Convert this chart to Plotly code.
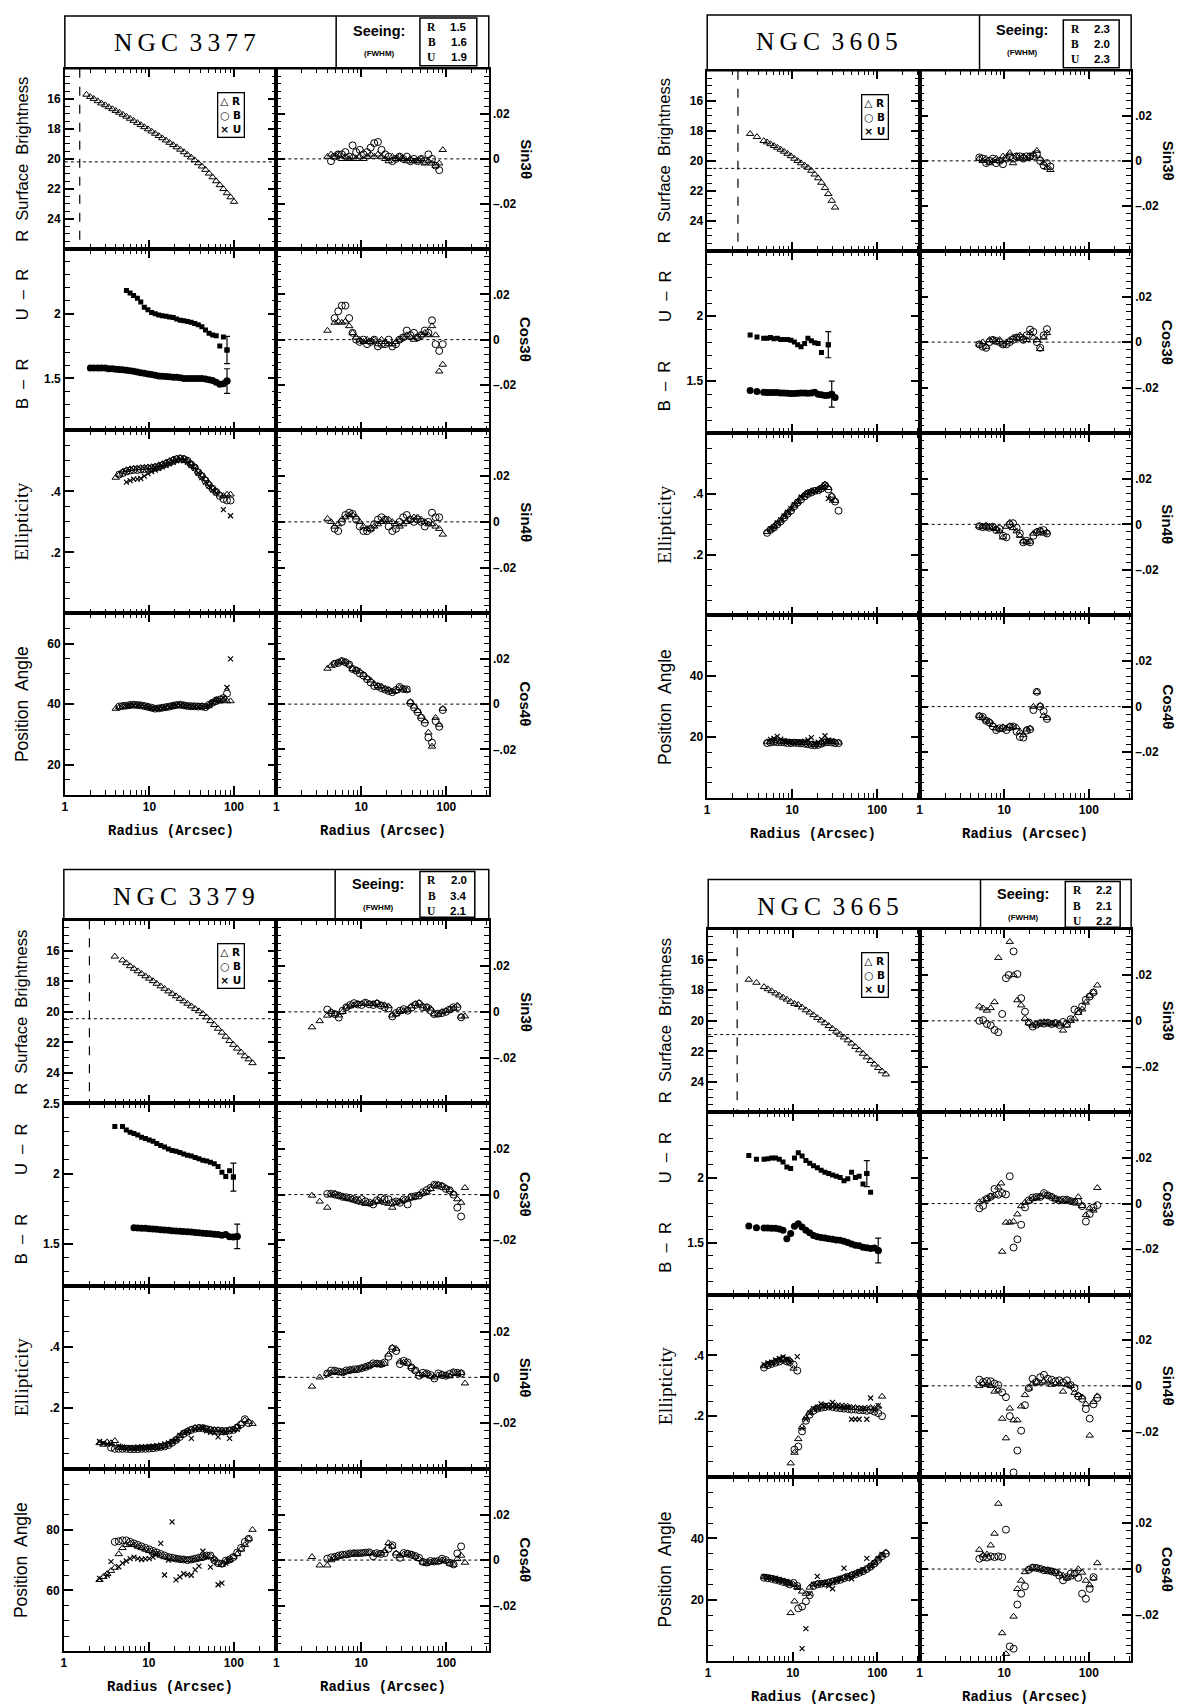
import plotly.graph_objects as go

N = None
W, H = 1185, 1705


def at(start, vals, n):
    """place a list of read-off values on a galaxy's radius grid (None = no point)"""
    out = [None] * start + list(vals)
    return (out + [None] * n)[:n]

# ======================= NGC 3377 =======================
n3377_r = [1.8, 2.0, 2.2, 2.45, 2.7, 3.0, 3.3, 3.65, 4.0, 4.4, 4.85, 5.35, 5.9, 6.5, 7.2, 7.9, 8.7, 9.6,
           10.6, 11.7, 12.9, 14.2, 15.7, 17.3, 19.1, 21.0, 23.2, 25.6, 28.2, 31.1, 34.3, 37.8, 41.7, 46.0,
           50.7, 55.9, 61.6, 67.9, 74.9, 82.6, 91.0, 100.0]
_n = len(n3377_r)
n3377_sb = at(0, [15.72, 15.87, 16.0, 16.15, 16.3, 16.42, 16.55, 16.68, 16.8, 16.92, 17.05, 17.18, 17.32, 17.46,
                  17.6, 17.74, 17.88, 18.02, 18.17, 18.32, 18.47, 18.62, 18.77, 18.92, 19.07, 19.22, 19.38,
                  19.55, 19.72, 19.9, 20.08, 20.28, 20.5, 20.72, 20.97, 21.22, 21.48, 21.74, 22.0, 22.28,
                  22.55, 22.85], _n)
n3377_ur = at(11, [2.18, 2.16, 2.14, 2.12, 2.09, 2.05, 2.03, 2.01, 2.0, 1.99, 1.985, 1.98, 1.975, 1.97, 1.96,
                   1.95, 1.945, 1.94, 1.935, 1.925, 1.915, 1.90, 1.875, 1.85, 1.835, 1.83, 1.75, 1.82, 1.72], _n)
n3377_br = at(1, [1.58, 1.58, 1.58, 1.58, 1.58, 1.575, 1.575, 1.572, 1.57, 1.567, 1.563, 1.56, 1.555, 1.55,
                  1.545, 1.54, 1.535, 1.53, 1.525, 1.52, 1.518, 1.515, 1.513, 1.51, 1.51, 1.505, 1.50, 1.50,
                  1.50, 1.50, 1.50, 1.50, 1.495, 1.49, 1.485, 1.47, 1.455, 1.46, 1.48], _n)
n3377_err = {'ur': (39, 0.105), 'br': (39, 0.095)}
n3377_ell_R = at(8, [0.445, 0.455, 0.465, 0.47, 0.473, 0.475, 0.476, 0.477, 0.478, 0.479, 0.48, 0.482, 0.486,
                     0.49, 0.495, 0.50, 0.505, 0.508, 0.51, 0.508, 0.50, 0.49, 0.48, 0.465, 0.452, 0.44, 0.425,
                     0.41, 0.40, 0.39, 0.385, 0.39, 0.39], _n)
n3377_ell_B = at(9, [0.455, 0.46, 0.465, 0.468, 0.47, 0.47, 0.472, 0.473, 0.475, 0.475, 0.478, 0.48, 0.485,
                     0.49, 0.495, 0.5, 0.505, 0.507, 0.505, 0.5, 0.488, 0.478, 0.462, 0.45, 0.435, 0.42, 0.408,
                     0.398, 0.385, 0.375, 0.37, 0.37], _n)
n3377_ell_U = at(11, [0.43, 0.435, 0.44, 0.44, 0.442, 0.45, 0.458, 0.465, 0.47, 0.475, 0.48, 0.485, 0.49,
                      0.495, 0.5, 0.502, 0.5, 0.495, 0.485, 0.475, 0.46, 0.445, 0.43, 0.418, 0.405, 0.395, N,
                      0.34, N, 0.32], _n)
n3377_pa_R = at(8, [38.5, 39.0, 39.2, 39.3, 39.5, 39.6, 39.6, 39.5, 39.3, 39.0, 38.6, 38.4, 38.5, 38.7, 38.9,
                    39.1, 39.4, 39.6, 39.7, 39.5, 39.3, 39.2, 39.2, 39.3, 39.3, 39.1, 39.6, 40.5, 41.5, 41.0,
                    41.5, 41.0, 41.0], _n)
n3377_pa_B = at(9, [39.2, 39.4, 39.5, 39.7, 39.8, 39.7, 39.6, 39.4, 39.1, 38.8, 38.5, 38.6, 38.8, 39.0, 39.2,
                    39.5, 39.7, 39.8, 39.6, 39.4, 39.3, 39.3, 39.2, 39.2, 39.0, 39.8, 40.5, 41.0, 41.5, 42.0,
                    43.5], _n)
n3377_pa_U = at(11, [39.3, 39.6, 39.6, 39.4, 39.3, 39.2, 38.9, 38.7, 38.4, 38.5, 38.6, 38.9, 39.0, 39.3, 39.5,
                     39.6, 39.4, 39.2, 39.1, 39.0, 39.0, 39.0, 38.9, 39.5, 40.5, 41.5, 41.0, 42.0, 45.5,
                     55.0], _n)
n3377_s3_R = at(8, [0.001, 0.002, 0.001, 0.002, 0.0, 0.001, 0.0, 0.001, 0.0, 0.001, 0.0, 0.001, 0.002, 0.001,
                    0.002, 0.001, 0.0, -0.001, 0.001, 0.0, 0.001, 0.0, -0.001, 0.0, -0.001, -0.001, 0.0, -0.002,
                    -0.001, -0.002, -0.003, -0.002, 0.004], _n)
n3377_s3_B = at(9, [-0.001, 0.001, 0.002, 0.002, 0.003, 0.001, 0.006, 0.003, 0.004, 0.002, 0.003, 0.005, 0.007,
                    0.0075, 0.004, 0.002, 0.001, -0.001, 0.0, 0.001, 0.0, 0.001, -0.001, 0.0, -0.001, 0.0,
                    -0.001, 0.002, 0.0, -0.003, -0.005], _n)
n3377_c3_R = at(8, [0.004, N, 0.0075, 0.008, 0.0075, 0.008, 0.006, 0.003, 0.001, 0.0, -0.001, 0.0, -0.001, 0.0,
                    -0.002, 0.0, -0.001, -0.002, -0.002, -0.001, 0.0, 0.001, 0.002, 0.001, 0.0, 0.001, 0.002,
                    0.003, 0.002, 0.006, 0.002, -0.014, -0.011], _n)
n3377_c3_B = at(10, [0.0095, 0.0125, 0.015, 0.015, 0.0095, 0.003, 0.0, -0.001, 0.0, -0.002, -0.001, 0.0, -0.003,
                     -0.002, -0.002, 0.0, -0.003, -0.002, 0.0, 0.001, 0.004, 0.002, 0.003, 0.001, 0.002, 0.004,
                     0.003, 0.0085, -0.002, -0.005, -0.002], _n)
n3377_s4_R = at(8, [0.0014, 0.0, -0.002, -0.001, 0.001, 0.002, 0.003, 0.003, 0.002, 0.0, -0.002, -0.003, -0.003,
                    -0.002, -0.001, 0.0, 0.001, 0.001, 0.0, -0.001, -0.002, -0.001, 0.0, 0.001, 0.002, 0.002,
                    0.001, 0.0, -0.001, -0.001, -0.002, -0.003, -0.0055], _n)
n3377_s4_B = at(10, [-0.003, -0.004, 0.0, 0.003, 0.004, 0.0035, 0.001, -0.002, -0.004, -0.004, -0.003, -0.001,
                     0.001, 0.002, 0.001, -0.002, -0.004, -0.003, 0.0, 0.002, 0.003, 0.001, 0.0, 0.001, 0.0,
                     -0.002, 0.0, 0.004, 0.002, 0.002], _n)
n3377_c4_R = at(8, [0.0157, 0.017, 0.018, 0.0185, 0.019, 0.0185, 0.0175, 0.0155, 0.015, 0.0145, 0.013, 0.0115,
                    0.0105, 0.009, 0.008, 0.0078, 0.0068, 0.0064, 0.0055, 0.0058, 0.0072, 0.0065, 0.0062, 0.001,
                    -0.001, -0.003, -0.0055, -0.0075, -0.0125, -0.0187, -0.006, -0.009, -0.002], _n)
n3377_c4_B = at(10, [0.0178, 0.0182, 0.019, 0.0185, 0.0175, 0.0155, 0.0148, 0.0135, 0.0126, 0.011, 0.0095,
                     0.008, 0.0078, 0.007, 0.0064, 0.0058, 0.0053, 0.0062, 0.0076, 0.0067, 0.0065, 0.0005,
                     -0.0015, -0.0035, -0.006, -0.0083, -0.0148, -0.017, -0.0075, -0.01, -0.0026], _n)

# ======================= NGC 3605 =======================
n3605_r = [3.2, 3.51, 3.85, 4.22, 4.62, 5.07, 5.56, 6.1, 6.68, 7.33, 8.04, 8.81, 9.66, 10.6, 11.6, 12.7, 14.0,
           15.3, 16.8, 18.4, 20.2, 22.1, 24.3, 26.6, 29.2, 32.0, 35.1, 38.5]
_n = len(n3605_r)
n3605_sb = at(0, [18.2, N, 18.4, N, 18.67, 18.76, 18.88, 19.0, 19.12, 19.25, 19.38, 19.52, 19.68, 19.85, 20.0,
                  20.15, 20.3, 20.45, 20.65, 20.9, 21.15, 21.45, 21.8, 22.2, 22.65, 23.1], _n)
n3605_ur = at(0, [1.855, N, 1.84, N, 1.83, 1.83, 1.835, 1.825, 1.83, 1.82, 1.82, 1.82, 1.815, 1.80, 1.78, 1.765,
                  1.79, 1.83, 1.81, 1.795, 1.79, 1.72, N, 1.78], _n)
n3605_br = at(0, [1.428, N, 1.42, N, 1.415, 1.413, 1.413, 1.412, 1.413, 1.41, 1.41, 1.408, 1.405, 1.405, 1.408,
                  1.41, 1.41, 1.408, 1.41, 1.415, 1.40, 1.395, 1.39, 1.392, 1.40, 1.375], _n)
n3605_err = {'ur': (23, 0.1), 'br': (24, 0.1)}
n3605_ell_R = at(5, [0.275, 0.283, 0.293, 0.303, 0.313, 0.325, 0.337, 0.35, 0.362, 0.374, 0.386, 0.398, 0.405,
                     0.41, 0.412, 0.415, 0.42, 0.432, 0.42, 0.395, 0.378], _n)
n3605_ell_B = at(5, [0.272, 0.282, 0.29, 0.3, 0.31, 0.322, 0.335, 0.345, 0.36, 0.372, 0.382, 0.392, 0.4, 0.405,
                     0.41, 0.412, 0.418, 0.428, 0.415, 0.39, 0.375, 0.345], _n)
n3605_ell_U = at(6, [0.285, 0.29, 0.305, 0.315, 0.328, 0.34, 0.352, 0.365, 0.375, 0.39, 0.395, 0.405, 0.408,
                     0.41, 0.412, 0.42, 0.43, 0.385, 0.38], _n)
n3605_pa_R = at(5, [18.3, 18.5, 18.8, 18.6, 18.5, 18.4, 18.3, 18.2, 18.2, 18.1, 18.1, 18.0, 18.0, 17.6, 17.4,
                    17.5, 18.0, 18.4, 18.6, 18.4, 18.3, 18.2], _n)
n3605_pa_B = at(5, [18.0, 18.2, 18.4, 18.3, 18.3, 18.2, 18.0, 18.0, 18.1, 18.0, 17.9, 17.8, 17.6, 17.4, 17.3,
                    17.4, 17.8, 18.2, 18.3, 18.2, 18.0, 18.0], _n)
n3605_pa_U = at(6, [19.2, 19.5, 20.2, 19.3, 18.8, 18.6, 18.5, 18.4, 18.5, 18.3, 18.6, 19.0, 19.8, 18.0, 18.3,
                    19.2, 20.4, 19.0, 18.8], _n)
n3605_s3_R = at(5, [0.001, 0.0, 0.001, -0.001, 0.0, 0.001, 0.0, 0.002, 0.001, 0.0035, -0.001, 0.002, 0.001,
                    0.002, 0.001, 0.002, 0.003, 0.0045, 0.001, -0.001, -0.003, -0.004], _n)
n3605_s3_B = at(5, [0.0015, 0.001, -0.001, 0.0, 0.001, -0.001, 0.0, -0.0015, 0.001, 0.002, 0.001, 0.002, 0.002,
                    0.001, 0.002, 0.002, 0.002, 0.003, 0.0, -0.002, -0.001, -0.0025], _n)
n3605_c3_R = at(5, [-0.001, 0.0, -0.002, 0.001, 0.001, 0.0, 0.001, -0.001, 0.0, 0.001, 0.002, 0.002, 0.003,
                    0.002, 0.001, 0.004, 0.002, 0.001, -0.003, 0.002, 0.004], _n)
n3605_c3_B = at(5, [-0.001, -0.002, -0.0025, 0.0, 0.001, 0.0005, 0.0, -0.001, -0.001, 0.0, 0.001, 0.002, 0.002,
                    0.001, 0.003, 0.0055, 0.0045, 0.0, -0.0025, 0.003, 0.0057], _n)
n3605_s4_R = at(5, [-0.0008, -0.001, -0.0005, -0.001, -0.0015, -0.002, -0.003, -0.0057, -0.001, 0.0008,
                    -0.0016, -0.003, -0.005, -0.0074, -0.0079, -0.0075, -0.004, -0.003, -0.0025, -0.004,
                    -0.0035], _n)
n3605_s4_B = at(5, [-0.0008, -0.0012, -0.001, -0.0015, -0.001, -0.0025, -0.002, -0.005, -0.0057, 0.0, 0.0005,
                    -0.0015, -0.004, -0.0079, -0.0072, -0.0079, -0.005, -0.0035, -0.003, -0.0025, -0.004], _n)
n3605_c4_R = at(5, [-0.004, -0.005, -0.006, -0.0065, -0.008, -0.0095, -0.01, -0.009, -0.0095, -0.0085, -0.009,
                    -0.009, -0.011, -0.0125, -0.01, -0.0095, 0.0, 0.0065, 0.0005, -0.004, -0.005], _n)
n3605_c4_B = at(5, [-0.0042, -0.0045, -0.0062, -0.007, -0.0087, -0.0103, -0.0095, -0.0095, -0.0103, -0.009,
                    -0.0087, -0.011, -0.0133, -0.0136, -0.0105, -0.01, -0.0015, 0.0065, 0.0, -0.002,
                    -0.0054], _n)

# ======================= NGC 3379 =======================
n3379_r = [2.63, 2.92, 3.24, 3.59, 3.98, 4.42, 4.9, 5.43, 6.03, 6.68, 7.41, 8.22, 9.12, 10.1, 11.2, 12.4, 13.8,
           15.3, 17.0, 18.8, 20.9, 23.2, 25.7, 28.5, 31.6, 35.1, 38.9, 43.2, 47.9, 53.1, 58.9, 65.3, 72.4,
           80.4, 89.1, 98.9, 109.6, 121.6, 134.9, 149.6, 166.0, 184.0]
_n = len(n3379_r)
n3379_sb = at(4, [16.37, N, 16.62, 16.8, 17.0, 17.17, 17.33, 17.5, 17.66, 17.82, 17.98, 18.15, 18.32, 18.48,
                  18.65, 18.81, 18.97, 19.14, 19.3, 19.46, 19.63, 19.8, 19.95, 20.13, 20.35, 20.6, 20.85, 21.1,
                  21.35, 21.62, 21.9, 22.15, 22.4, 22.65, 22.9, 23.1, 23.35], _n)
n3379_ur = at(4, [2.335, N, 2.335, 2.31, 2.295, 2.285, 2.275, 2.26, 2.25, 2.24, 2.23, 2.215, 2.2, 2.19, 2.175,
                  2.165, 2.16, 2.15, 2.14, 2.13, 2.125, 2.115, 2.105, 2.095, 2.09, 2.08, 2.07, 2.05, 2.01,
                  1.98, 2.02, 1.975], _n)
n3379_br = at(9, [1.613, 1.612, 1.61, 1.61, 1.607, 1.605, 1.603, 1.6, 1.597, 1.595, 1.592, 1.59, 1.588, 1.587,
                  1.585, 1.583, 1.58, 1.578, 1.575, 1.572, 1.57, 1.568, 1.565, 1.56, 1.565, 1.55, 1.548,
                  1.552], _n)
n3379_err = {'ur': (35, 0.1), 'br': (36, 0.087)}
n3379_ell_R = at(0, [0.085, 0.08, 0.088, 0.085, 0.092, 0.07, 0.07, 0.068, 0.068, 0.067, 0.067, 0.068, 0.068,
                     0.07, 0.07, 0.07, 0.072, 0.075, 0.08, 0.088, 0.097, 0.108, 0.118, 0.125, 0.13, 0.135,
                     0.136, 0.135, 0.132, 0.13, 0.128, 0.128, 0.126, 0.126, 0.128, 0.13, 0.138, 0.148, 0.16,
                     0.155, 0.148], _n)
n3379_ell_B = at(3, [0.07, 0.066, 0.066, 0.066, 0.066, 0.065, 0.065, 0.065, 0.066, 0.066, 0.067, 0.068, 0.07,
                     0.072, 0.074, 0.078, 0.086, 0.095, 0.105, 0.115, 0.122, 0.128, 0.132, 0.134, 0.133, 0.13,
                     0.127, 0.125, 0.125, 0.124, 0.124, 0.126, 0.128, 0.136, 0.146, 0.163, 0.15], _n)
n3379_ell_U = at(0, [0.09, 0.085, 0.082, 0.08, N, 0.075, 0.072, 0.07, 0.07, 0.07, 0.072, 0.072, 0.073, 0.074,
                     0.075, 0.076, 0.078, 0.082, 0.085, 0.09, 0.095, 0.11, 0.118, 0.122, 0.1, 0.13, 0.132,
                     0.137, 0.125, 0.12, 0.118, 0.105, 0.12, 0.118, 0.1, 0.128, 0.13], _n)
n3379_pa_R = at(0, [63.5, 64.5, 65.5, 66.5, 67.5, 72.0, 74.0, 75.0, 75.5, 75.0, 74.5, 74.0, 73.5, 73.0, 72.5,
                    72.0, 71.5, 71.0, 70.8, 70.5, 70.3, 70.2, 70.1, 70.0, 70.0, 70.2, 70.5, 70.8, 71.2, 71.3,
                    70.5, 69.0, 68.5, 69.5, 70.0, 71.0, 72.0, 73.5, 75.0, 77.0, 80.0], _n)
n3379_pa_B = at(4, [76.0, 76.2, 76.5, 76.5, 76.0, 75.5, 75.0, 74.5, 74.0, 73.5, 73.0, 72.5, 72.0, 71.5, 71.0,
                    70.8, 70.5, 70.3, 70.2, 70.0, 70.2, 70.5, 70.8, 71.0, 71.5, 71.5, 70.0, 69.0, 68.8, 69.8,
                    70.2, 71.0, 72.5, 74.0, 76.0, 77.0], _n)
n3379_pa_U = at(0, [64.0, N, 65.0, 69.5, N, 67.8, 69.0, 69.7, 70.5, 71.0, 70.5, 70.2, 70.4, 70.5, 71.0, 72.0,
                    75.5, 65.1, 70.0, 82.6, 63.5, 64.5, 65.5, 65.2, 65.0, 66.8, 68.0, 72.9, 71.0, 67.7, 70.0,
                    61.9, 62.4, 69.0, 70.0], _n)
n3379_s3_R = at(0, [-0.0067, N, -0.004, N, -0.0016, 0.0, -0.001, -0.0015, 0.0, 0.002, 0.0025, 0.003, 0.0035,
                    0.0035, 0.0038, 0.0035, 0.0035, 0.004, 0.003, 0.003, 0.0025, -0.0015, -0.001, 0.0, 0.0005,
                    0.001, 0.0025, 0.0035, 0.004, 0.0025, 0.002, 0.0015, -0.001, -0.0012, 0.0, 0.0005, 0.001,
                    0.0015, 0.0028, -0.002, -0.0019], _n)
n3379_s3_B = at(4, [0.001, -0.0005, -0.001, -0.0025, 0.0005, 0.002, 0.003, 0.0038, 0.0032, 0.003, 0.004, 0.0033,
                    0.003, 0.0036, 0.0028, 0.002, 0.0015, -0.002, -0.0005, 0.0005, 0.0012, 0.0005, 0.0018,
                    0.003, 0.0035, 0.002, 0.002, 0.0005, -0.001, -0.0008, -0.0005, 0.0, 0.001, 0.002, 0.002,
                    -0.0024], _n)
n3379_c3_R = at(0, [-0.0004, N, -0.003, N, -0.0057, 0.0, 0.0005, -0.0005, -0.001, -0.0015, -0.002, -0.0025,
                    -0.003, -0.0035, -0.004, -0.004, -0.0035, -0.003, -0.003, -0.0035, -0.004, -0.0057,
                    -0.0035, -0.003, -0.0025, -0.002, -0.0015, -0.001, 0.0, 0.0005, 0.001, 0.0025, 0.004,
                    0.0045, 0.004, 0.003, 0.002, 0.0005, -0.002, -0.0035, 0.003], _n)
n3379_c3_B = at(4, [0.0003, 0.0004, 0.0, -0.0004, -0.001, -0.0012, -0.0015, -0.002, -0.0025, -0.002, -0.003,
                    -0.0036, -0.0043, -0.0025, -0.0014, -0.002, -0.0021, -0.0036, -0.003, -0.0036, -0.0021,
                    -0.0043, -0.001, -0.0007, -0.0004, 0.001, 0.002, 0.003, 0.0043, 0.004, 0.0036, 0.0025,
                    0.0019, 0.0, -0.0057, -0.0096], _n)
n3379_s4_R = at(0, [-0.004, N, 0.0, N, 0.0015, 0.002, 0.0025, 0.002, 0.002, 0.0025, 0.003, 0.003, 0.0035,
                    0.004, 0.0045, 0.005, 0.0055, 0.006, 0.0055, 0.006, 0.01, 0.013, 0.0125, 0.007, 0.0065,
                    0.006, 0.0045, 0.003, 0.0015, 0.001, 0.0015, 0.0005, 0.0, 0.001, 0.0015, 0.001, 0.0005,
                    0.002, 0.0015, 0.002, -0.0026], _n)
n3379_s4_B = at(4, [0.0017, 0.003, 0.0029, 0.0025, 0.0022, 0.003, 0.0032, 0.0035, 0.0036, 0.004, 0.0045, 0.0051,
                    0.0061, 0.006, 0.0058, 0.0065, 0.009, 0.0125, 0.0115, 0.0058, 0.0072, 0.0065, 0.0043,
                    0.003, 0.0007, 0.002, 0.0017, 0.001, -0.0005, 0.0017, 0.001, 0.0007, 0.0015, 0.0022,
                    0.002, 0.0017], _n)
n3379_c4_R = at(0, [0.0014, N, -0.0023, N, -0.0023, 0.0, 0.001, 0.0015, 0.002, 0.002, 0.0025, 0.003, 0.0028,
                    0.003, 0.003, 0.0032, 0.003, 0.0025, 0.003, 0.004, 0.0075, 0.006, 0.003, 0.002, 0.0025,
                    0.003, 0.0025, 0.0015, 0.0005, -0.001, -0.0015, -0.001, -0.0005, -0.0008, 0.0, -0.0005,
                    -0.0015, -0.002, 0.0005, 0.002, -0.0011], _n)
n3379_c4_B = at(4, [0.0006, 0.0012, 0.0014, 0.002, 0.0024, 0.0025, 0.0029, 0.003, 0.003, 0.0031, 0.0033, 0.0034,
                    0.0017, 0.003, 0.0027, 0.003, 0.005, 0.0065, 0.0024, 0.001, 0.0031, 0.0028, 0.0024,
                    0.0018, 0.001, -0.0008, -0.0011, -0.0004, -0.0006, -0.0004, 0.0006, 0.0, -0.0012,
                    -0.0019, 0.0029, 0.006], _n)

# ======================= NGC 3665 =======================
n3665_r = [3.02, 3.35, 3.72, 4.12, 4.57, 5.07, 5.62, 6.24, 6.92, 7.67, 8.51, 9.44, 10.47, 11.61, 12.88, 14.29,
           15.85, 17.58, 19.5, 21.63, 23.99, 26.61, 29.51, 32.73, 36.31, 40.27, 44.67, 49.55, 54.95, 60.95,
           67.61, 74.99, 83.18, 92.26, 102.3, 113.5, 125.9, 9.2, 10.2, 11.3]
_n = len(n3665_r)
n3665_sb = at(0, [17.3, N, 17.5, N, 17.78, 17.92, 18.05, 18.2, 18.33, 18.47, 18.6, 18.75, 18.88, 18.95, 19.12,
                  19.3, 19.45, 19.62, 19.8, 19.97, 20.15, 20.33, 20.52, 20.7, 20.9, 21.08, 21.27, 21.48, 21.7,
                  21.92, 22.15, 22.38, 22.62, 22.85, 23.08, 23.3, 23.5], _n)
n3665_ur = at(0, [2.17, N, 2.14, N, 2.14, 2.145, 2.15, 2.15, 2.14, 2.12, 2.08, 2.07, 2.15, 2.19, 2.165, 2.13,
                  2.11, 2.09, 2.075, 2.055, 2.04, 2.03, 2.02, 2.01, 2.0, 1.975, 1.99, 2.04, 2.0, 2.01, 1.95,
                  2.03, 1.886], _n)
n3665_br = at(0, [1.627, N, 1.615, N, 1.612, 1.612, 1.61, 1.61, 1.605, 1.595, 1.53, 1.57, 1.625, 1.645, 1.62,
                  1.595, 1.575, 1.555, 1.545, 1.54, 1.535, 1.53, 1.525, 1.52, 1.518, 1.51, 1.5, 1.49, 1.48,
                  1.475, 1.465, 1.46, 1.455, 1.458, 1.44], _n)
n3665_err = {'ur': (31, 0.1), 'br': (34, 0.095)}
n3665_ell_R = at(4, [0.365, 0.37, 0.375, 0.38, 0.385, 0.39, 0.385, 0.045, 0.08, 0.125, 0.165, 0.195, 0.212,
                     0.222, 0.228, 0.232, 0.234, 0.235, 0.236, 0.235, 0.234, 0.233, 0.232, 0.228, 0.228, 0.226,
                     0.225, 0.226, 0.228, 0.225, 0.232, 0.265, N, 0.385, 0.357, N], _n)
n3665_ell_B = at(4, [0.36, 0.368, 0.372, 0.376, 0.38, 0.385, 0.38, N, 0.09, 0.1, 0.15, 0.185, 0.205, 0.218,
                     0.225, 0.228, 0.23, 0.232, 0.23, 0.228, 0.226, 0.225, 0.224, 0.222, 0.222, 0.22, 0.22,
                     0.218, 0.22, 0.215, 0.21, 0.2, N, 0.378, 0.37, 0.35], _n)
n3665_ell_U = at(4, [0.37, 0.375, 0.378, 0.385, 0.39, 0.395, 0.388, N, N, N, 0.16, 0.19, 0.21, 0.225, 0.23,
                     0.24, 0.235, 0.232, 0.245, 0.232, 0.23, 0.228, 0.23, 0.19, 0.19, 0.19, 0.225, 0.19, 0.26,
                     0.22, 0.235, N, N, 0.38, N, 0.396], _n)
n3665_pa_R = at(4, [27.4, 27.2, 27.0, 26.7, 26.3, 26.0, 25.6, 15.7, 19.5, N, 22.7, 22.0, 24.0, 25.0, 25.3, 25.4,
                    25.5, 25.8, 26.1, 26.4, 26.8, 27.2, 27.6, 28.1, 28.6, 29.0, 29.5, 30.2, 31.0, 32.0, 33.2,
                    34.5, 35.5, 25.3, 25.0, 24.0], _n)
n3665_pa_B = at(4, [27.2, 27.0, 26.8, 26.5, 26.2, 25.8, 25.5, N, N, 17.2, 17.8, 19.5, 21.5, 24.5, 25.0, 25.2,
                    25.3, 25.6, 25.9, 26.2, 26.5, 27.0, 27.4, 27.9, 28.3, 28.8, 29.3, 30.0, 30.8, 31.8, 33.0,
                    34.2, 35.0, 25.0, 25.5, 24.5], _n)
n3665_pa_U = at(4, [27.6, 27.4, 27.2, 27.0, 26.6, 26.3, 26.0, N, N, N, 4.1, 10.6, 22.0, 25.0, 27.6, 25.5, 25.6,
                    24.5, 23.6, 26.5, 27.0, 30.3, 27.8, 26.8, 28.5, 29.2, 29.8, 33.5, 31.0, 32.0, 33.5, 34.8,
                    N, 25.5, N, 24.0], _n)
n3665_s3_R = at(5, [0.0063, 0.0055, 0.0045, 0.0056, 0.0082, 0.0275, N, N, 0.0345, 0.02, 0.009, 0.0068, 0.001,
                    -0.001, -0.002, -0.0015, -0.001, -0.0005, -0.001, -0.0015, -0.001, -0.0015, -0.0042,
                    -0.002, 0.0, 0.001, 0.0035, 0.005, 0.008, 0.011, 0.0125, 0.0155], _n)
n3665_s3_B = at(5, [0.0, 0.0003, -0.0014, -0.002, -0.004, -0.005, 0.003, 0.0186, N, 0.0303, 0.0204, 0.0099,
                    0.004, -0.0007, -0.0025, -0.0017, -0.001, -0.0012, -0.0008, -0.0014, -0.001, -0.0018,
                    -0.0005, -0.0014, 0.0007, 0.0049, 0.0042, 0.0063, 0.0092, 0.0106, 0.0124, N, N, N,
                    0.02], _n)
n3665_c3_R = at(5, [0.0007, 0.0015, 0.0021, 0.0031, 0.0036, 0.0071, -0.0211, -0.0083, -0.0083, -0.0079,
                    -0.0047, -0.0011, 0.0005, 0.001, 0.002, 0.0025, 0.003, 0.004, 0.0035, 0.003, 0.002,
                    0.0015, 0.001, 0.0015, 0.001, 0.0005, 0.0029, -0.001, -0.005, -0.002, -0.003, 0.0069,
                    0.0089], _n)
n3665_c3_B = at(5, [-0.0021, -0.001, 0.0021, 0.003, 0.0064, 0.0039, 0.0046, 0.004, 0.012, -0.0193, -0.0157,
                    -0.0093, -0.0017, 0.0014, 0.0026, 0.0029, 0.0029, 0.0046, 0.0036, 0.0029, 0.002, 0.0014,
                    0.0017, 0.0017, 0.0011, 0.0007, 0.0007, -0.0011, -0.0079, -0.0046, -0.0017, -0.0007], _n)
n3665_s4_R = at(5, [0.0, 0.001, 0.0005, 0.0, -0.0025, -0.002, -0.0144, -0.023, -0.0099, -0.0151, -0.0151,
                    -0.009, -0.004, -0.0011, 0.001, 0.0015, 0.0012, 0.002, 0.0015, 0.0005, 0.001, 0.0008,
                    -0.0025, 0.0005, 0.0, -0.003, -0.004, -0.005, -0.008, -0.0218, -0.007, -0.0045], _n)
n3665_s4_B = at(5, [0.0027, 0.0017, 0.0021, 0.002, 0.001, 0.0003, -0.0029, -0.005, -0.0133, -0.038, -0.0284,
                    -0.0197, -0.0085, -0.001, 0.0031, 0.0017, 0.0038, 0.0048, 0.0031, 0.0027, 0.002, 0.0024,
                    0.0015, 0.0024, 0.0003, -0.001, -0.0046, -0.0057, -0.0102, -0.0144, -0.0081,
                    -0.0053], _n)
n3665_c4_R = at(5, [0.0084, 0.006, 0.0064, 0.0103, 0.0154, 0.0284, -0.0278, -0.0368, N, -0.0206, -0.0086,
                    -0.005, -0.0013, 0.0, 0.0006, 0.0005, 0.0001, -0.0003, -0.0006, -0.001, -0.0013, -0.002,
                    -0.0028, -0.004, -0.0035, -0.002, 0.0, -0.0015, -0.005, -0.007, -0.004, 0.0026], _n)
n3665_c4_B = at(5, [0.0045, 0.0052, 0.005, 0.0055, 0.0052, 0.0055, 0.0052, 0.0171, -0.0336, -0.0346, -0.0154,
                    -0.0107, -0.0075, -0.0003, 0.0006, 0.0005, 0.0001, -0.0005, -0.0006, -0.001, -0.0015,
                    -0.0028, -0.0049, -0.0035, -0.002, -0.002, -0.0038, -0.0107, -0.0129, -0.0086,
                    -0.0035], _n)

# ---------------- per-galaxy tables ----------------
galaxies = [
    dict(name='NGC 3377', seeing=['1.5', '1.6', '1.9'], see_r=1.5, sky=20.2, r=n3377_r, sb=n3377_sb,
         ur=n3377_ur, br=n3377_br, err=n3377_err,
         ell=(n3377_ell_R, n3377_ell_B, n3377_ell_U), pa=(n3377_pa_R, n3377_pa_B, n3377_pa_U),
         s3=(n3377_s3_R, n3377_s3_B), c3=(n3377_c3_R, n3377_c3_B), s4=(n3377_s4_R, n3377_s4_B),
         c4=(n3377_c4_R, n3377_c4_B),
         col_rng=[1.1, 2.5], col_ticks=[1.5, 2.0], col_text=['1.5', '2'],
         pa_rng=[10, 70], pa_ticks=[20, 40, 60]),
    dict(name='NGC 3605', seeing=['2.3', '2.0', '2.3'], see_r=2.3, sky=20.5, r=n3605_r, sb=n3605_sb,
         ur=n3605_ur, br=n3605_br, err=n3605_err,
         ell=(n3605_ell_R, n3605_ell_B, n3605_ell_U), pa=(n3605_pa_R, n3605_pa_B, n3605_pa_U),
         s3=(n3605_s3_R, n3605_s3_B), c3=(n3605_c3_R, n3605_c3_B), s4=(n3605_s4_R, n3605_s4_B),
         c4=(n3605_c4_R, n3605_c4_B),
         col_rng=[1.1, 2.5], col_ticks=[1.5, 2.0], col_text=['1.5', '2'],
         pa_rng=[0, 60], pa_ticks=[20, 40]),
    dict(name='NGC 3379', seeing=['2.0', '3.4', '2.1'], see_r=2.0, sky=20.45, r=n3379_r, sb=n3379_sb,
         ur=n3379_ur, br=n3379_br, err=n3379_err,
         ell=(n3379_ell_R, n3379_ell_B, n3379_ell_U), pa=(n3379_pa_R, n3379_pa_B, n3379_pa_U),
         s3=(n3379_s3_R, n3379_s3_B), c3=(n3379_c3_R, n3379_c3_B), s4=(n3379_s4_R, n3379_s4_B),
         c4=(n3379_c4_R, n3379_c4_B),
         col_rng=[1.2, 2.5], col_ticks=[1.5, 2.0, 2.5], col_text=['1.5', '2', '2.5'],
         pa_rng=[40, 100], pa_ticks=[60, 80]),
    dict(name='NGC 3665', seeing=['2.2', '2.1', '2.2'], see_r=2.2, sky=20.9, r=n3665_r, sb=n3665_sb,
         ur=n3665_ur, br=n3665_br, err=n3665_err,
         ell=(n3665_ell_R, n3665_ell_B, n3665_ell_U), pa=(n3665_pa_R, n3665_pa_B, n3665_pa_U),
         s3=(n3665_s3_R, n3665_s3_B), c3=(n3665_c3_R, n3665_c3_B), s4=(n3665_s4_R, n3665_s4_B),
         c4=(n3665_c4_R, n3665_c4_B),
         col_rng=[1.1, 2.5], col_ticks=[1.5, 2.0], col_text=['1.5', '2'],
         pa_rng=[0, 60], pa_ticks=[20, 40]),
]

# ---------------- page geometry (pixels) ----------------
geom = [
    dict(L=62, M=274, R=487, tt=9, rows=[62, 243, 425, 609, 791], sd=334, ib=(418, 475, 11, 59)),
    dict(L=706, M=919, R=1131, tt=8, rows=[64, 245, 428, 611, 794], sd=979, ib=(1063, 1119, 13, 61)),
    dict(L=61, M=274, R=487, tt=866, rows=[917, 1101, 1284, 1468, 1651], sd=333, ib=(418, 473, 868, 914)),
    dict(L=707, M=919, R=1131, tt=876, rows=[926, 1110, 1293, 1476, 1661], sd=980, ib=(1065, 1120, 878, 924)),
]

TICKFONT = dict(family='Liberation Sans', size=12, color='black', weight='bold')
BLACK = 'black'
TRI = dict(symbol='triangle-up-open', size=6.5, color=BLACK, line=dict(width=1, color=BLACK))
CIRC = dict(symbol='circle-open', size=7, color=BLACK, line=dict(width=1, color=BLACK))
CROSS = dict(symbol='x-thin-open', size=5, color=BLACK, line=dict(width=1.2, color=BLACK))
SQ = dict(symbol='square', size=5, color=BLACK)
DOT = dict(symbol='circle', size=7, color=BLACK)


def px(x):
    return x / W


def py(y):
    return 1 - y / H


fig = go.Figure()
layout = dict(width=W, height=H, margin=dict(l=0, r=0, t=0, b=0), paper_bgcolor='white',
              plot_bgcolor='white', showlegend=False)
shapes, annotations = [], []
ax_n = [0]


def note(xpix, ypix, text, font, **kw):
    d = dict(x=px(xpix), y=py(ypix), xref='paper', yref='paper', text=text, showarrow=False,
             xanchor='center', yanchor='middle', font=font)
    d.update(kw)
    annotations.append(d)


def new_axes(xd, yd, yopt, xlabels, right):
    ax_n[0] += 1
    n = ax_n[0]
    sfx = '' if n == 1 else str(n)
    xa = dict(domain=xd, type='log', range=[0, 2.5], dtick=1, tick0=0, showline=True, linecolor=BLACK,
              linewidth=1.5, mirror='allticks', ticks='inside', ticklen=9, tickwidth=1.5, tickcolor=BLACK,
              minor=dict(dtick='D1', ticks='inside', ticklen=5, tickwidth=1.2, tickcolor=BLACK),
              showgrid=False, zeroline=False, showticklabels=xlabels, tickfont=TICKFONT,
              anchor='y' + sfx)
    ya = dict(domain=yd, showline=True, linecolor=BLACK, linewidth=1.5, mirror='allticks', ticks='inside',
              ticklen=9, tickwidth=1.5, tickcolor=BLACK, showgrid=False, zeroline=False,
              tickfont=TICKFONT, anchor='x' + sfx, side='right' if right else 'left')
    ya.update(yopt)
    layout['xaxis' + sfx] = xa
    layout['yaxis' + sfx] = ya
    return 'x' + sfx, 'y' + sfx


def pts(xr, yr, r, v, marker):
    fig.add_trace(go.Scatter(x=r, y=v, mode='markers', marker=marker, xaxis=xr, yaxis=yr,
                             hoverinfo='skip', cliponaxis=True))


def errbar(xr, yr, r, v, idx, e, marker):
    fig.add_trace(go.Scatter(x=[r[idx]], y=[v[idx]], mode='markers', marker=marker, xaxis=xr, yaxis=yr,
                             error_y=dict(type='data', array=[e], width=3, thickness=1.2, color=BLACK),
                             hoverinfo='skip'))


harm_y = dict(range=[-0.04, 0.04], tickvals=[-0.02, 0, 0.02], ticktext=['\u2013.02', '0', '.02'],
              minor=dict(dtick=0.02 / 6, tick0=0, ticks='inside', ticklen=5, tickwidth=1.2, tickcolor=BLACK))
right_titles = ['Sin3\u03b8', 'Cos3\u03b8', 'Sin4\u03b8', 'Cos4\u03b8']
SANS = 'Liberation Sans'
SERIF = 'Liberation Serif'

for g, gm in zip(galaxies, geom):
    L, M, R, rows = gm['L'], gm['M'], gm['R'], gm['rows']
    r = g['r']
    xdl = [px(L), px(M)]
    xdr = [px(M), px(R)]
    minor = lambda d, t0: dict(dtick=d, tick0=t0, ticks='inside', ticklen=5, tickwidth=1.2, tickcolor=BLACK)
    left_opts = [
        dict(range=[26, 14], tickvals=[16, 18, 20, 22, 24], minor=minor(0.5, 14)),
        dict(range=g['col_rng'], tickvals=g['col_ticks'], ticktext=g['col_text'], minor=minor(0.1, 1.0)),
        dict(range=[0, 0.6], tickvals=[0.2, 0.4], ticktext=['.2', '.4'], minor=minor(0.05, 0)),
        dict(range=g['pa_rng'], tickvals=g['pa_ticks'], minor=minor(5, 0)),
    ]
    harm = [g['s3'], g['c3'], g['s4'], g['c4']]
    for k in range(4):
        yd = [py(rows[k + 1]), py(rows[k])]
        last = (k == 3)
        xl, yl = new_axes(xdl, yd, left_opts[k], last, False)
        if k == 0:
            fig.add_trace(go.Scatter(x=[g['see_r'], g['see_r']], y=[14, 26], mode='lines',
                                     line=dict(color=BLACK, width=1.2, dash='dash'), xaxis=xl, yaxis=yl,
                                     hoverinfo='skip'))
            shapes.append(dict(type='line', xref=xl + ' domain', yref=yl, x0=0, x1=1, y0=g['sky'],
                               y1=g['sky'], line=dict(color=BLACK, width=1, dash='dot')))
            pts(xl, yl, r, g['sb'], TRI)
        elif k == 1:
            pts(xl, yl, r, g['ur'], SQ)
            pts(xl, yl, r, g['br'], DOT)
            i, e = g['err']['ur']
            errbar(xl, yl, r, g['ur'], i, e, SQ)
            i, e = g['err']['br']
            errbar(xl, yl, r, g['br'], i, e, DOT)
        elif k == 2:
            pts(xl, yl, r, g['ell'][2], CROSS)
            pts(xl, yl, r, g['ell'][1], CIRC)
            pts(xl, yl, r, g['ell'][0], TRI)
        else:
            pts(xl, yl, r, g['pa'][2], CROSS)
            pts(xl, yl, r, g['pa'][1], CIRC)
            pts(xl, yl, r, g['pa'][0], TRI)
        xr_, yr_ = new_axes(xdr, yd, dict(harm_y), last, True)
        shapes.append(dict(type='line', xref=xr_ + ' domain', yref=yr_, x0=0, x1=1, y0=0, y1=0,
                           line=dict(color=BLACK, width=1, dash='dot')))
        pts(xr_, yr_, r, harm[k][1], CIRC)
        pts(xr_, yr_, r, harm[k][0], TRI)
        ymid = (rows[k] + rows[k + 1]) / 2
        note(R + 37, ymid, right_titles[k], dict(family=SANS, size=15, color=BLACK, weight='bold'),
             textangle=90)

    # left titles
    lf = dict(family=SANS, size=16.5, color=BLACK)
    note(L - 43, (rows[0] + rows[1]) / 2, 'R  Surface  Brightness', lf, textangle=-90)
    note(L - 43, rows[1] + 0.25 * (rows[2] - rows[1]), 'U  \u2013  R', dict(family=SANS, size=16.5,
                                                                         color=BLACK), textangle=-90)
    note(L - 43, rows[1] + 0.74 * (rows[2] - rows[1]), 'B  \u2013  R', dict(family=SANS, size=16.5,
                                                                         color=BLACK), textangle=-90)
    note(L - 43, (rows[2] + rows[3]) / 2, 'Ellipticity', dict(family=SERIF, size=19.5, color=BLACK),
         textangle=-90)
    note(L - 43, (rows[3] + rows[4]) / 2, 'Position  Angle', dict(family=SANS, size=17.5, color=BLACK),
         textangle=-90)

    # x titles
    for cx in [(L + M) / 2, (M + R) / 2]:
        note(cx, rows[4] + 36, 'Radius (Arcsec)', dict(family='Liberation Mono', size=14, color=BLACK,
                                                       weight='bold'))

    # title box
    tt = gm['tt']
    shapes.append(dict(type='rect', xref='paper', yref='paper', x0=px(L), x1=px(R), y0=py(rows[0]),
                       y1=py(tt), line=dict(color=BLACK, width=1.5)))
    shapes.append(dict(type='line', xref='paper', yref='paper', x0=px(gm['sd']), x1=px(gm['sd']),
                       y0=py(rows[0]), y1=py(tt), line=dict(color=BLACK, width=1.5)))
    ib = gm['ib']
    shapes.append(dict(type='rect', xref='paper', yref='paper', x0=px(ib[0]), x1=px(ib[1]), y0=py(ib[3]),
                       y1=py(ib[2]), line=dict(color=BLACK, width=1.5)))
    nm = g['name'].replace('NGC ', '')
    spaced = '\u2009'.join('NGC') + ' \u2009' + '\u2009'.join(nm)
    note(L + 120, tt + 27, spaced, dict(family=SERIF, size=25.5, color=BLACK))
    note(gm['sd'] + 43, tt + 15, 'Seeing:', dict(family=SANS, size=14.5, color=BLACK, weight='bold'))
    note(gm['sd'] + 43, tt + 38, '(FWHM)', dict(family=SANS, size=8, color=BLACK, weight='bold'))
    for j, (band, val) in enumerate(zip(['R', 'B', 'U'], g['seeing'])):
        yy = ib[2] + 9 + j * 15.3
        note(ib[0] + 12, yy, band, dict(family=SERIF, size=11.5, color=BLACK, weight='bold'))
        note(ib[0] + 39, yy, val, dict(family=SANS, size=11.5, color=BLACK, weight='bold'))
    # symbol key inside surface-brightness panel
    annotations.append(dict(x=px(M - 31), y=py(rows[0] + 23), xref='paper', yref='paper', xanchor='right',
                            yanchor='top', text='\u25b3 R<br>\u25cb B<br>\u00d7 U', align='left',
                            showarrow=False, bordercolor=BLACK, borderwidth=1.3, borderpad=2,
                            font=dict(family='DejaVu Sans', size=10.5, color=BLACK, weight='bold')))

layout['shapes'] = shapes
layout['annotations'] = annotations
fig.update_layout(**layout)
fig.write_html('out.html', config={'displayModeBar': False},
               post_script="document.body.style.margin='0';")
